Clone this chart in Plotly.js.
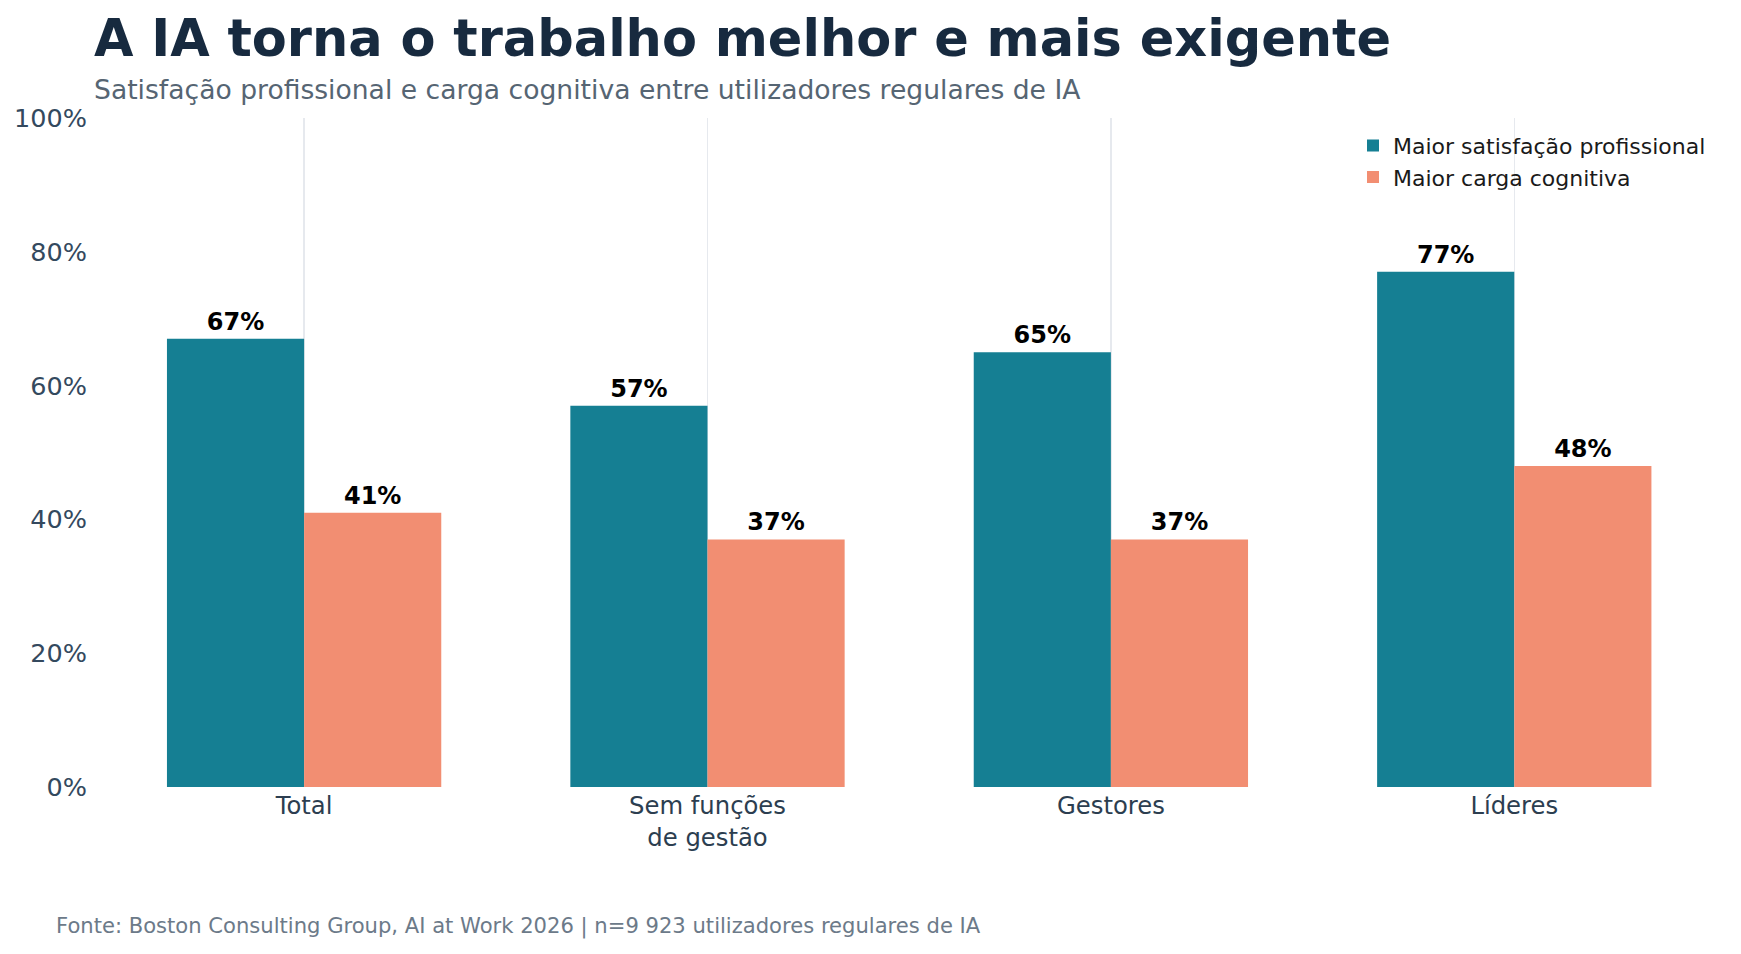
<!DOCTYPE html>
<html>
<head>
<meta charset="utf-8">
<script src="https://cdn.plot.ly/plotly-3.0.1.min.js"></script>
<style>
  html, body { margin: 0; padding: 0; background: #ffffff; }
  #chart { width: 1741px; height: 954px; }
</style>
</head>
<body>
<div id="chart"></div>
<script>
var categories = ['Total', 'Sem funções<br>de gestão', 'Gestores', 'Líderes'];
var satisfacao = [67, 57, 65, 77];
var cargaCognitiva = [41, 37, 37, 48];
var yTickValues = [0, 20, 40, 60, 80, 100];
var yTickLabels = ['0%', '20%', '40%', '60%', '80%', '100%'];

var FONT = 'DejaVu Sans, sans-serif';

var traceSatisfacao = {
    x: categories,
    y: satisfacao,
    name: 'Maior satisfação profissional',
    type: 'bar',
    marker: {color: '#157F93'},
    text: satisfacao.map(function (v) { return '<b>' + v + '%</b>'; }),
    texttemplate: '%{text}',
    textposition: 'outside',
    textfont: {family: FONT, size: 24, color: '#000000'},
    cliponaxis: false,
    hoverinfo: 'skip'
};

var traceCarga = {
    x: categories,
    y: cargaCognitiva,
    name: 'Maior carga cognitiva',
    type: 'bar',
    marker: {color: '#F28E72'},
    text: cargaCognitiva.map(function (v) { return '<b>' + v + '%</b>'; }),
    texttemplate: '%{text}',
    textposition: 'outside',
    textfont: {family: FONT, size: 24, color: '#000000'},
    cliponaxis: false,
    hoverinfo: 'skip'
};

var layout = {
    width: 1741,
    height: 954,
    margin: {l: 100, r: 21, t: 118, b: 167},
    paper_bgcolor: '#ffffff',
    plot_bgcolor: '#ffffff',
    font: {family: FONT, color: '#2C3E50'},
    barmode: 'group',
    bargap: 0.32,
    bargroupgap: 0,
    title: {
        text: '<b>A IA torna o trabalho melhor e mais exigente</b>',
        font: {family: FONT, size: 51, color: '#172A3F'},
        x: 94 / 1741,
        xanchor: 'left',
        xref: 'container',
        y: 1 - 38 / 954,
        yanchor: 'middle',
        yref: 'container'
    },
    xaxis: {
        type: 'category',
        range: [-0.506, 3.51],
        showgrid: true,
        gridcolor: '#E6E9EE',
        gridwidth: 1.5,
        showline: false,
        zeroline: false,
        ticks: '',
        ticklabelstandoff: 2,
        tickfont: {family: FONT, size: 24.3, color: '#2C3E50'}
    },
    yaxis: {
        range: [0, 100],
        tickmode: 'array',
        tickvals: yTickValues,
        ticktext: yTickLabels,
        showgrid: false,
        zeroline: false,
        showline: false,
        ticks: '',
        ticklabelstandoff: 12,
        tickfont: {family: FONT, size: 25.5, color: '#34495E'}
    },
    legend: {
        x: 1 - 9 / 1620,
        xanchor: 'right',
        y: 0.99,
        yanchor: 'top',
        bgcolor: 'rgba(255,255,255,0)',
        font: {family: FONT, size: 22, color: '#1A1A1A'},
        tracegroupgap: 4
    },
    showlegend: true,
    annotations: [
        {
            text: 'Satisfação profissional e carga cognitiva entre utilizadores regulares de IA',
            xref: 'paper', yref: 'paper',
            x: (92 - 100) / 1620, xanchor: 'left',
            y: (790 - 89) / 672, yanchor: 'middle',
            showarrow: false,
            font: {family: FONT, size: 26.6, color: '#566573'}
        },
        {
            text: 'Fonte: Boston Consulting Group, AI at Work 2026 | n=9 923 utilizadores regulares de IA',
            xref: 'paper', yref: 'paper',
            x: (54 - 100) / 1620, xanchor: 'left',
            y: (790 - 930) / 672, yanchor: 'middle',
            showarrow: false,
            font: {family: FONT, size: 21.1, color: '#6C7A89'}
        }
    ]
};

Plotly.newPlot('chart', [traceSatisfacao, traceCarga], layout, {displayModeBar: false, staticPlot: true});
</script>
</body>
</html>
